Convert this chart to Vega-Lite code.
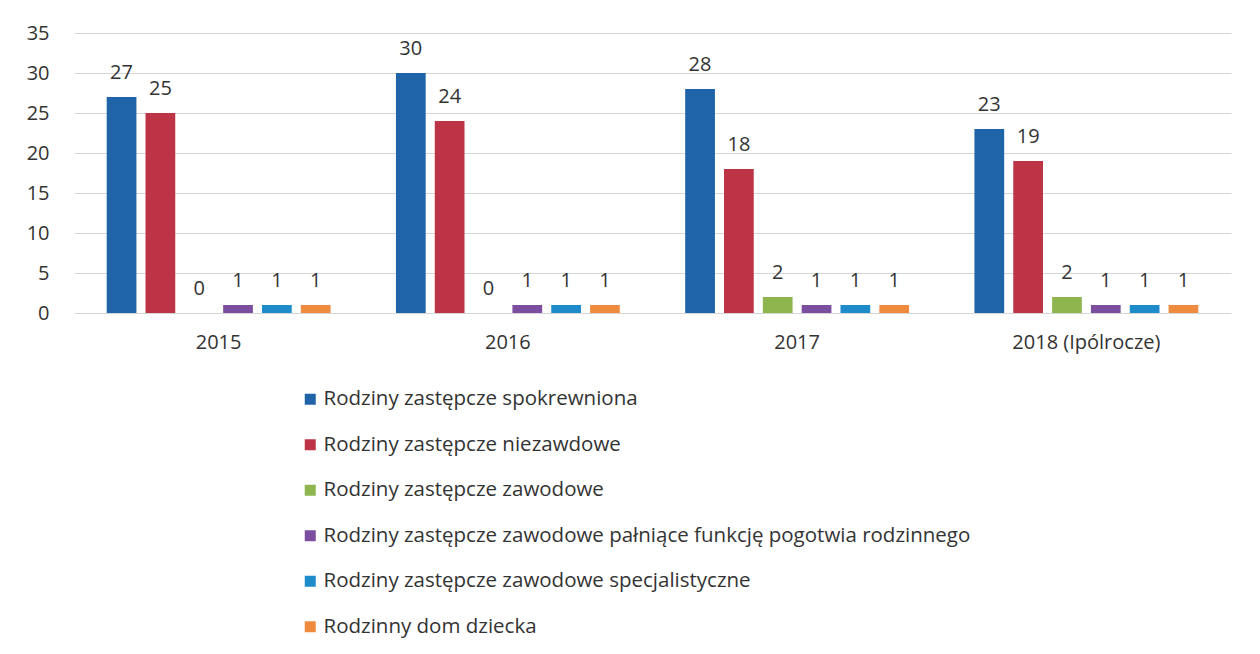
{
  "$schema": "https://vega.github.io/schema/vega-lite/v6.json",
  "autosize": "none",
  "width": 1157,
  "height": 280,
  "padding": {"left": 74, "top": 33, "right": 29, "bottom": 341},
  "background": "white",
  "config": {
    "font": "Open Sans",
    "view": {"stroke": null}
  },
  "data": {
    "values": [
      {"year": "2015", "series": "Rodziny zastępcze spokrewniona", "value": 27},
      {"year": "2015", "series": "Rodziny zastępcze niezawdowe", "value": 25},
      {"year": "2015", "series": "Rodziny zastępcze zawodowe", "value": 0},
      {"year": "2015", "series": "Rodziny zastępcze zawodowe pałniące funkcję pogotwia rodzinnego", "value": 1},
      {"year": "2015", "series": "Rodziny zastępcze zawodowe specjalistyczne", "value": 1},
      {"year": "2015", "series": "Rodzinny dom dziecka", "value": 1},
      {"year": "2016", "series": "Rodziny zastępcze spokrewniona", "value": 30},
      {"year": "2016", "series": "Rodziny zastępcze niezawdowe", "value": 24},
      {"year": "2016", "series": "Rodziny zastępcze zawodowe", "value": 0},
      {"year": "2016", "series": "Rodziny zastępcze zawodowe pałniące funkcję pogotwia rodzinnego", "value": 1},
      {"year": "2016", "series": "Rodziny zastępcze zawodowe specjalistyczne", "value": 1},
      {"year": "2016", "series": "Rodzinny dom dziecka", "value": 1},
      {"year": "2017", "series": "Rodziny zastępcze spokrewniona", "value": 28},
      {"year": "2017", "series": "Rodziny zastępcze niezawdowe", "value": 18},
      {"year": "2017", "series": "Rodziny zastępcze zawodowe", "value": 2},
      {"year": "2017", "series": "Rodziny zastępcze zawodowe pałniące funkcję pogotwia rodzinnego", "value": 1},
      {"year": "2017", "series": "Rodziny zastępcze zawodowe specjalistyczne", "value": 1},
      {"year": "2017", "series": "Rodzinny dom dziecka", "value": 1},
      {"year": "2018 (Ipólrocze)", "series": "Rodziny zastępcze spokrewniona", "value": 23},
      {"year": "2018 (Ipólrocze)", "series": "Rodziny zastępcze niezawdowe", "value": 19},
      {"year": "2018 (Ipólrocze)", "series": "Rodziny zastępcze zawodowe", "value": 2},
      {"year": "2018 (Ipólrocze)", "series": "Rodziny zastępcze zawodowe pałniące funkcję pogotwia rodzinnego", "value": 1},
      {"year": "2018 (Ipólrocze)", "series": "Rodziny zastępcze zawodowe specjalistyczne", "value": 1},
      {"year": "2018 (Ipólrocze)", "series": "Rodzinny dom dziecka", "value": 1}
    ]
  },
  "encoding": {
    "x": {
      "field": "year",
      "type": "nominal",
      "sort": null,
      "scale": {"paddingInner": 0.226, "paddingOuter": 0.113},
      "axis": {
        "title": null,
        "labelAngle": 0,
        "labelFontSize": 20,
        "labelColor": "#333333",
        "labelPadding": 19,
        "ticks": false,
        "domain": false,
        "grid": false
      }
    },
    "xOffset": {
      "field": "series",
      "type": "nominal",
      "sort": [
        "Rodziny zastępcze spokrewniona",
        "Rodziny zastępcze niezawdowe",
        "Rodziny zastępcze zawodowe",
        "Rodziny zastępcze zawodowe pałniące funkcję pogotwia rodzinnego",
        "Rodziny zastępcze zawodowe specjalistyczne",
        "Rodzinny dom dziecka"
      ],
      "scale": {"paddingInner": 0.234, "paddingOuter": 0}
    },
    "y": {
      "field": "value",
      "type": "quantitative",
      "scale": {"domain": [0, 35]},
      "axis": {
        "title": null,
        "values": [0, 5, 10, 15, 20, 25, 30, 35],
        "labelFontSize": 20,
        "labelColor": "#333333",
        "labelPadding": 25,
        "ticks": false,
        "domain": false,
        "grid": true,
        "gridColor": "#d6d6d6",
        "gridWidth": 1
      }
    }
  },
  "layer": [
    {
      "mark": {"type": "bar"},
      "encoding": {
        "color": {
          "field": "series",
          "type": "nominal",
          "scale": {
            "domain": [
              "Rodziny zastępcze spokrewniona",
              "Rodziny zastępcze niezawdowe",
              "Rodziny zastępcze zawodowe",
              "Rodziny zastępcze zawodowe pałniące funkcję pogotwia rodzinnego",
              "Rodziny zastępcze zawodowe specjalistyczne",
              "Rodzinny dom dziecka"
            ],
            "range": ["#1F64A8", "#BC3445", "#8FB54F", "#7B4E9F", "#1E8BCB", "#EE8B3F"]
          },
          "legend": {
            "title": null,
            "orient": "none",
            "legendX": 226,
            "legendY": 356,
            "direction": "vertical",
            "symbolType": "square",
            "symbolSize": 121,
            "symbolStrokeWidth": 0,
            "labelFontSize": 20.5,
            "labelColor": "#333333",
            "labelOffset": 3,
            "labelLimit": 0,
            "rowPadding": 24.5
          }
        }
      }
    },
    {
      "mark": {"type": "text", "baseline": "alphabetic", "dy": -18, "fontSize": 20, "color": "#333333"},
      "encoding": {
        "text": {"field": "value", "type": "quantitative"}
      }
    }
  ]
}
